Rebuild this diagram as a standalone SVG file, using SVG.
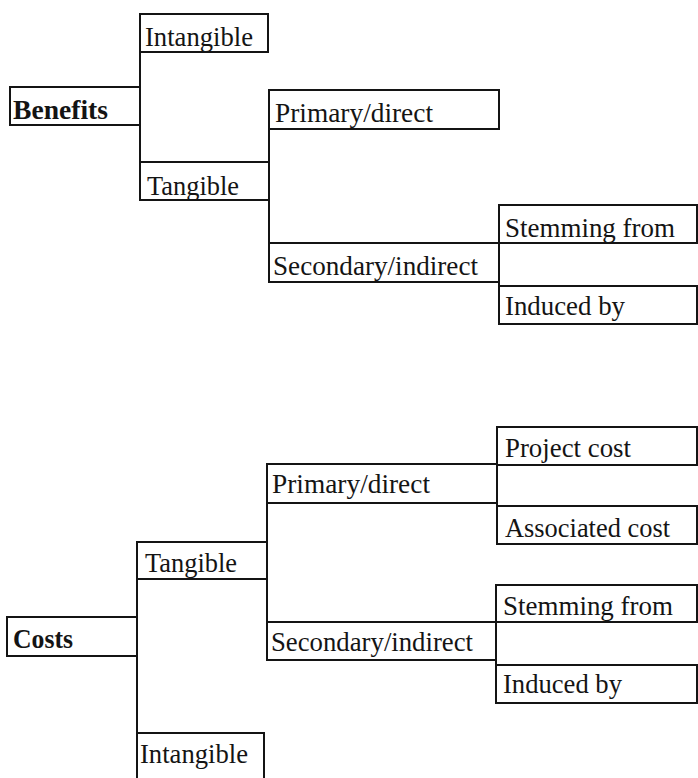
<svg xmlns="http://www.w3.org/2000/svg" width="698" height="778" viewBox="0 0 698 778">
<style>
.box{fill:none;stroke:#141414;stroke-width:2}
.ln{fill:none;stroke:#141414;stroke-width:2}
</style>
<rect width="698" height="778" fill="#fff"/>
<g id="connectors">
<line class="ln" x1="140" y1="52" x2="140" y2="162"/>
<line class="ln" x1="269" y1="129" x2="269" y2="243"/>
<line class="ln" x1="499" y1="243" x2="499" y2="286"/>
<line class="ln" x1="497" y1="465" x2="497" y2="506"/>
<line class="ln" x1="496" y1="622" x2="496" y2="665"/>
<line class="ln" x1="267" y1="503" x2="267" y2="622"/>
<line class="ln" x1="137" y1="579" x2="137" y2="733"/>
</g>
<g font-family="Liberation Serif" font-size="27" fill="#141414">
<g id="benefits"><rect class="box" x="10" y="87" width="130" height="38"/><text font-weight="bold" x="13" y="119" textLength="95" lengthAdjust="spacingAndGlyphs">Benefits</text></g>
<g id="b-intangible"><rect class="box" x="140" y="14" width="128" height="38"/><text x="145" y="46" textLength="108" lengthAdjust="spacingAndGlyphs">Intangible</text></g>
<g id="b-tangible"><rect class="box" x="140" y="162" width="129" height="38"/><text x="147" y="195" textLength="92" lengthAdjust="spacingAndGlyphs">Tangible</text></g>
<g id="b-primary"><rect class="box" x="269" y="90" width="230" height="39"/><text x="275" y="122" textLength="158" lengthAdjust="spacingAndGlyphs">Primary/direct</text></g>
<g id="b-secondary"><rect class="box" x="269" y="243" width="230" height="39"/><text x="273" y="275" textLength="205" lengthAdjust="spacingAndGlyphs">Secondary/indirect</text></g>
<g id="b-stemming"><rect class="box" x="499" y="205" width="198" height="38"/><text x="505" y="237" textLength="170" lengthAdjust="spacingAndGlyphs">Stemming from</text></g>
<g id="b-induced"><rect class="box" x="499" y="286" width="198" height="38"/><text x="505" y="315" textLength="120" lengthAdjust="spacingAndGlyphs">Induced by</text></g>
<g id="costs"><rect class="box" x="7" y="617" width="130" height="39"/><text font-weight="bold" x="13" y="648" textLength="60" lengthAdjust="spacingAndGlyphs">Costs</text></g>
<g id="c-tangible"><rect class="box" x="137" y="542" width="130" height="37"/><text x="145" y="572" textLength="92" lengthAdjust="spacingAndGlyphs">Tangible</text></g>
<g id="c-intangible"><rect class="box" x="137" y="733" width="127" height="60"/><text x="140" y="763" textLength="108" lengthAdjust="spacingAndGlyphs">Intangible</text></g>
<g id="c-primary"><rect class="box" x="267" y="464" width="230" height="39"/><text x="272" y="493" textLength="158" lengthAdjust="spacingAndGlyphs">Primary/direct</text></g>
<g id="c-secondary"><rect class="box" x="267" y="622" width="229" height="38"/><text x="271" y="651" textLength="202" lengthAdjust="spacingAndGlyphs">Secondary/indirect</text></g>
<g id="c-project"><rect class="box" x="497" y="427" width="200" height="38"/><text x="505" y="457" textLength="126" lengthAdjust="spacingAndGlyphs">Project cost</text></g>
<g id="c-associated"><rect class="box" x="497" y="506" width="200" height="38"/><text x="505" y="537" textLength="165" lengthAdjust="spacingAndGlyphs">Associated cost</text></g>
<g id="c-stemming"><rect class="box" x="496" y="585" width="201" height="37"/><text x="503" y="615" textLength="170" lengthAdjust="spacingAndGlyphs">Stemming from</text></g>
<g id="c-induced"><rect class="box" x="496" y="665" width="201" height="38"/><text x="503" y="693" textLength="119" lengthAdjust="spacingAndGlyphs">Induced by</text></g>
</g>
</svg>
